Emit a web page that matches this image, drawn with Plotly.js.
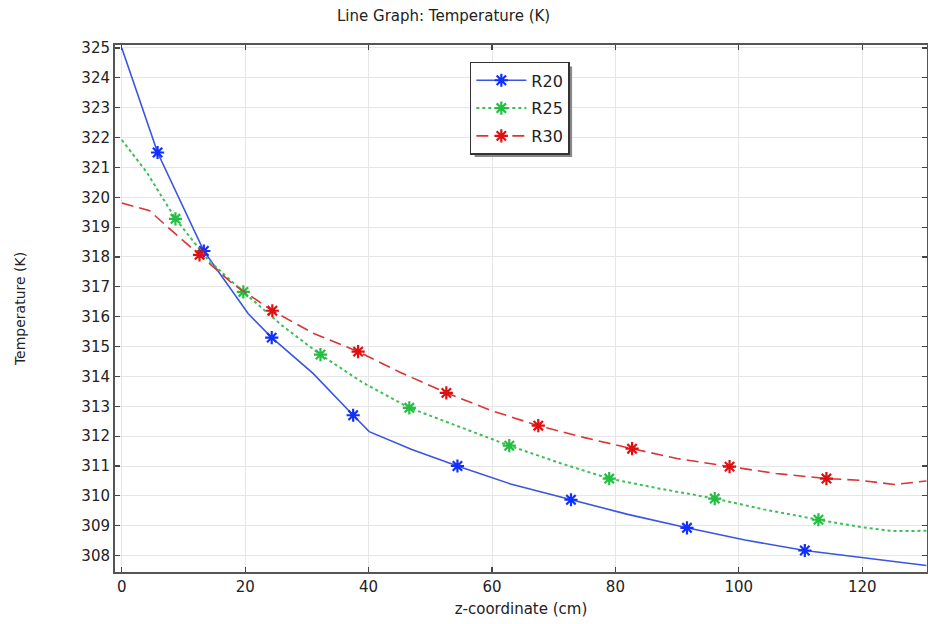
<!DOCTYPE html>
<html>
<head>
<meta charset="utf-8">
<script src="https://cdn.plot.ly/plotly-3.0.1.min.js"></script>
<style>html,body{margin:0;padding:0;background:#fff;}#chart{width:928px;height:624px;}</style>
</head>
<body>
<div id="chart"></div>
<script>
// R20 line
const r20X = [0, 5.8, 13.3, 20.5, 24.3, 31, 37.5, 40.1, 47, 54.4, 63, 72.8, 82, 91.6, 101, 110.7, 120, 130.4];
const r20Y = [325, 321.5, 318.2, 316.1, 315.3, 314.1, 312.7, 312.15, 311.55, 311.0, 310.4, 309.87, 309.38, 308.93, 308.52, 308.17, 307.93, 307.67];
const r20MX = [5.8, 13.3, 24.3, 37.5, 54.4, 72.8, 91.6, 110.7];
const r20MY = [321.5, 318.2, 315.3, 312.7, 311.0, 309.87, 308.93, 308.17];
// R25 line
const r25X = [0, 4, 8.7, 14, 19.7, 26, 32.2, 39, 46.6, 55, 62.8, 71, 79, 87, 96.1, 104, 112.9, 120, 125, 130.4];
const r25Y = [321.92, 320.85, 319.28, 317.9, 316.83, 315.7, 314.73, 313.8, 312.95, 312.3, 311.68, 311.1, 310.58, 310.25, 309.91, 309.55, 309.2, 308.95, 308.82, 308.83];
const r25MX = [8.7, 19.7, 32.2, 46.6, 62.8, 79, 96.1, 112.9];
const r25MY = [319.28, 316.83, 314.73, 312.95, 311.68, 310.58, 309.91, 309.2];
// R30 line
const r30X = [0, 4.5, 8, 12.6, 18, 24.4, 31, 38.3, 45, 52.6, 60, 67.5, 75, 82.7, 90, 98.5, 106, 114.2, 119.7, 125.2, 130.4];
const r30Y = [319.81, 319.55, 318.9, 318.07, 317.1, 316.2, 315.45, 314.83, 314.15, 313.45, 312.85, 312.35, 311.95, 311.58, 311.25, 310.98, 310.75, 310.58, 310.52, 310.38, 310.5];
const r30MX = [12.6, 24.4, 38.3, 52.6, 67.5, 82.7, 98.5, 114.2];
const r30MY = [318.07, 316.2, 314.83, 313.45, 312.35, 311.58, 310.98, 310.58];

const seriesNames = ['R20', 'R25', 'R30'];
const xTicks = [0, 20, 40, 60, 80, 100, 120];

const series = [
  {name: seriesNames[0], x: r20X, y: r20Y, mx: r20MX, my: r20MY, lc: '#3a55e0', mc: '#1030ff', dash: 'solid', w: 1.6},
  {name: seriesNames[1], x: r25X, y: r25Y, mx: r25MX, my: r25MY, lc: '#3cbf55', mc: '#22c040', dash: 'dot', w: 2},
  {name: seriesNames[2], x: r30X, y: r30Y, mx: r30MX, my: r30MY, lc: '#d83535', mc: '#e01010', dash: '12px,6px', w: 1.6}
];

const traces = [];
series.forEach(s => {
  traces.push({x: s.x, y: s.y, mode: 'lines', type: 'scatter', showlegend: false, hoverinfo: 'skip',
    legendgroup: s.name, line: {color: s.lc, width: s.w, dash: s.dash}});
  traces.push({x: s.mx, y: s.my, mode: 'markers', type: 'scatter', showlegend: false,
    legendgroup: s.name,
    marker: {symbol: 'asterisk-open', size: 11, color: s.mc, line: {color: s.mc, width: 2.2}}});
  traces.push({x: [null], y: [null], mode: 'lines+markers', type: 'scatter', name: s.name,
    legendgroup: s.name,
    line: {color: s.lc, width: s.w, dash: s.dash},
    marker: {symbol: 'asterisk-open', size: 11, color: s.mc, line: {color: s.mc, width: 2.2}}});
});

const axisCommon = {
  showline: true, linecolor: '#555', linewidth: 2, mirror: 'allticks',
  ticks: 'inside', ticklen: 5, tickcolor: '#444', tickwidth: 1.2,
  showgrid: true, gridcolor: '#e6e6e6', gridwidth: 1, zeroline: false,
  tickfont: {size: 15, color: '#222'}
};

const layout = {
  width: 928, height: 624,
  margin: {l: 115, r: 1, t: 45, b: 52},
  paper_bgcolor: '#fff', plot_bgcolor: '#fff',
  font: {family: 'DejaVu Sans, sans-serif', color: '#222'},
  title: {text: 'Line Graph: Temperature (K)', x: 0.478, xref: 'container', xanchor: 'center',
    y: 0.974, yref: 'container', yanchor: 'middle', font: {size: 15, color: '#222'}},
  xaxis: Object.assign({}, axisCommon, {range: [-1.1, 130.5], tickvals: xTicks,
    title: {text: 'z-coordinate (cm)', font: {size: 15}, standoff: 8}}),
  yaxis: Object.assign({}, axisCommon, {range: [307.45, 325.1], dtick: 1, tick0: 308,
    title: {text: 'Temperature (K)', font: {size: 14}, standoff: 52}}),
  legend: {x: 0.437, y: 0.968, xanchor: 'left', yanchor: 'top', bgcolor: '#fff',
    bordercolor: '#333', borderwidth: 1.5, font: {size: 16, color: '#222'},
    itemwidth: 50, tracegroupgap: 4, traceorder: 'grouped'},
  shapes: [{type: 'rect', xref: 'paper', yref: 'paper', x0: 0.441, x1: 0.566, y0: 0.795, y1: 0.962,
    fillcolor: '#888', line: {width: 0}, layer: 'above'}],
  showlegend: true
};

Plotly.newPlot('chart', traces, layout, {displayModeBar: false, staticPlot: true}).then(gd => {
  // align shadow with the actual legend box
  const bg = gd.querySelector('.legend .bg');
  if (bg) {
    const r = bg.getBoundingClientRect();
    const fs = gd._fullLayout._size;
    const px2x = p => (p - fs.l) / fs.w;
    const px2y = p => 1 - (p - fs.t) / fs.h;
    Plotly.relayout(gd, {
      'shapes[0].x0': px2x(r.left + 4), 'shapes[0].x1': px2x(r.right + 3),
      'shapes[0].y0': px2y(r.bottom + 3), 'shapes[0].y1': px2y(r.top + 4)
    });
  }
});
</script>
</body>
</html>
